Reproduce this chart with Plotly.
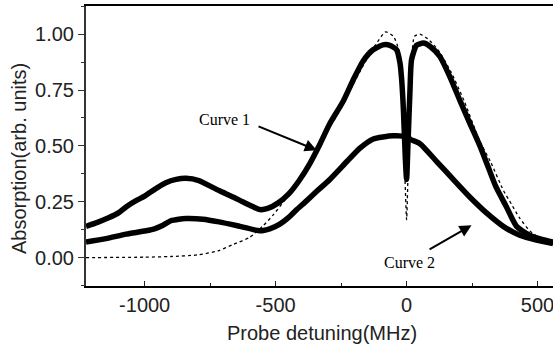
import plotly.graph_objects as go

# ---- data ----
curve1_x = [-1224, -1180, -1140, -1100, -1070, -1033, -1000, -969, -919, -880, -842, -793, -750, -716, -660,
            -626, -590, -560, -530, -490, -450, -410, -370, -330, -293, -242, -204, -166, -128, -90, -64, -38,
            -25, -19, -12, -5, 0, 5, 13, 19, 38, 64, 90, 127, 165, 203, 242, 280, 310, 340,
            380, 420, 470, 520, 559]
curve1_y = [0.14, 0.158, 0.177, 0.20, 0.228, 0.255, 0.275, 0.30, 0.335, 0.35, 0.355, 0.345, 0.32, 0.30, 0.27,
            0.25, 0.23, 0.215, 0.22, 0.245, 0.285, 0.345, 0.42, 0.51, 0.60, 0.70, 0.795, 0.88, 0.93, 0.952, 0.95, 0.93,
            0.87, 0.80, 0.66, 0.45, 0.35, 0.50, 0.75, 0.885, 0.95, 0.96, 0.945, 0.90, 0.81, 0.705, 0.60, 0.50, 0.41, 0.32,
            0.23, 0.14, 0.10, 0.08, 0.07]

curve2_x = [-1224, -1148, -1071, -995, -960, -930, -900, -870, -842, -777, -716, -636, -560, -520, -484, -450,
            -419, -381, -340, -293, -228, -178, -129, -52, -6, 0, 6, 13, 51, 115, 178, 242, 305,
            369, 432, 496, 559]
curve2_y = [0.07, 0.085, 0.105, 0.12, 0.13, 0.145, 0.165, 0.172, 0.175, 0.172, 0.16, 0.14, 0.12, 0.13, 0.15, 0.18,
            0.215, 0.255, 0.30, 0.35, 0.43, 0.49, 0.53, 0.545, 0.54, 0.50, 0.54, 0.53, 0.51, 0.43, 0.35, 0.27, 0.20,
            0.14, 0.10, 0.078, 0.063]

fit_x = [-1224, -1000, -900, -800, -720, -660, -600, -550, -510, -470, -420, -370, -320, -270, -220,
         -170, -120, -80, -50, -30, -20, -12, -6, 0, 6, 12, 20, 30, 50, 80, 120, 170, 220, 280,
         320, 370, 400, 430, 470, 520, 559]
fit_y = [0.0, 0.002, 0.005, 0.012, 0.03, 0.06, 0.09, 0.14, 0.19, 0.25, 0.33, 0.43, 0.53, 0.63, 0.74,
         0.85, 0.95, 1.01, 0.99, 0.93, 0.82, 0.60, 0.35, 0.17, 0.40, 0.70, 0.90, 0.99, 1.0, 0.98, 0.93, 0.83, 0.70, 0.52,
         0.43, 0.30, 0.24, 0.18, 0.12, 0.08, 0.06]

x_ticks = [-1000, -500, 0, 500]
y_ticks = [0.0, 0.25, 0.5, 0.75, 1.0]
x_title = "Probe detuning(MHz)"
y_title = "Absorption(arb. units)"

fig = go.Figure()
fig.add_trace(go.Scatter(x=fit_x, y=fit_y, mode="lines", line=dict(color="black", width=1.3, dash="dot", shape="spline", smoothing=0.6),
                         showlegend=False, hoverinfo="skip"))
fig.add_trace(go.Scatter(x=curve1_x, y=curve1_y, mode="lines", line=dict(color="black", width=5.5, shape="spline", smoothing=0.6),
                         showlegend=False))
fig.add_trace(go.Scatter(x=curve2_x, y=curve2_y, mode="lines", line=dict(color="black", width=5.5, shape="spline", smoothing=0.6),
                         showlegend=False))

tickfont = dict(family="Liberation Sans, Arial, sans-serif", size=20, color="#222")

fig.update_layout(
    width=553, height=351,
    margin=dict(l=86, r=0, t=6, b=65),
    paper_bgcolor="white", plot_bgcolor="white",
    xaxis=dict(range=[-1224, 559], tickvals=x_ticks, ticktext=[str(v) for v in x_ticks],
               ticks="inside", ticklen=5, tickwidth=1.2, tickcolor="#222", ticklabeloverflow="allow",
               minor=dict(dtick=250, tick0=0, ticks="inside", ticklen=3, tickcolor="#222"),
               showline=True, linecolor="black", linewidth=2, mirror=True,
               showgrid=False, zeroline=False, tickfont=tickfont),
    yaxis=dict(range=[-0.127, 1.126], tickvals=y_ticks, tickformat=".2f",
               ticks="outside", ticklen=6, tickwidth=1.2, tickcolor="#333",
               minor=dict(dtick=0.125, tick0=0, ticks="outside", ticklen=3, tickcolor="#333"),
               showline=True, linecolor="#333", linewidth=2,
               showgrid=False, zeroline=False, tickfont=tickfont),
    annotations=[
        dict(text=x_title, xref="paper", yref="paper", x=0.5064, y=-0.168, showarrow=False,
             font=dict(family="Liberation Sans, Arial, sans-serif", size=20, color="#222"),
             xanchor="center", yanchor="middle"),
        dict(text=y_title, xref="paper", yref="paper", x=-0.1435, y=0.457, showarrow=False, textangle=-90,
             font=dict(family="Liberation Sans, Arial, sans-serif", size=20, color="#222"),
             xanchor="center", yanchor="middle"),
        dict(text="Curve 1", x=-697, y=0.616, showarrow=False,
             font=dict(family="Liberation Serif, Times New Roman, serif", size=16, color="black")),
        dict(text="Curve 2", x=12.6, y=-0.024, showarrow=False,
             font=dict(family="Liberation Serif, Times New Roman, serif", size=16, color="black")),
        dict(text="", x=-343, y=0.481, ax=-571, ay=0.590, axref="x", ayref="y",
             showarrow=True, arrowhead=2, arrowsize=1.2, arrowwidth=2, arrowcolor="black"),
        dict(text="", x=248, y=0.145, ax=82, ay=0.033, axref="x", ayref="y",
             showarrow=True, arrowhead=2, arrowsize=1.2, arrowwidth=2, arrowcolor="black"),
    ],
)

fig.write_html("out.html")
